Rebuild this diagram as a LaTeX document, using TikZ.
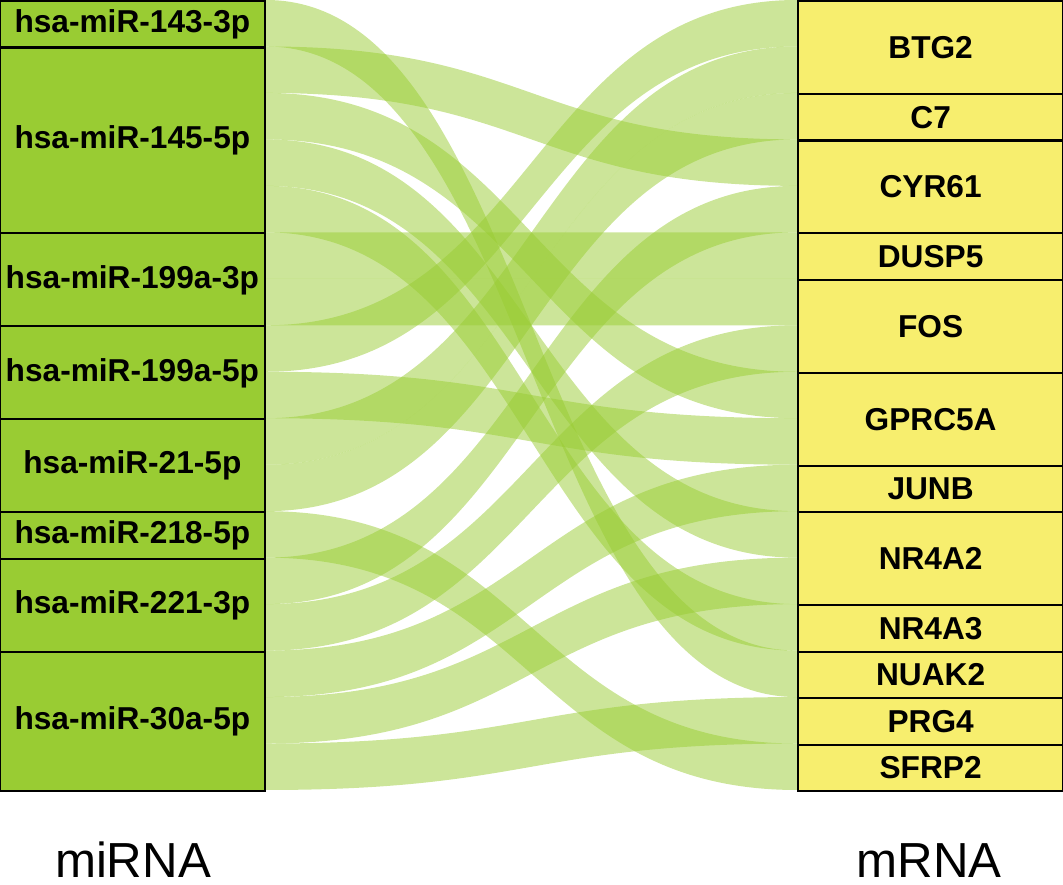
\documentclass[tikz,border=0pt]{standalone}
\usepackage{fontspec}
\setmainfont{Liberation Sans}
\usepackage{tikz}
\usetikzlibrary{calc}

\definecolor{mirgreen}{RGB}{153,204,51}
\definecolor{geneyellow}{RGB}{247,238,110}

\begin{document}
\begin{tikzpicture}[x=0.01cm, y=-0.01cm,
  mirbox/.style={draw=black, line width=0.6pt, fill=mirgreen, anchor=north east,
    minimum width=2.65cm, inner sep=0pt, font=\fontsize{9}{10}\selectfont\bfseries},
  genebox/.style={draw=black, line width=0.6pt, fill=geneyellow, anchor=north west,
    minimum width=2.65cm, inner sep=0pt, font=\fontsize{9}{10}\selectfont\bfseries},
  flow/.style={fill=mirgreen, fill opacity=0.5}]
\useasboundingbox (0,0) rectangle (1063,885);
\def\u{46.47}

% Slot corners on both sides
\foreach \k in {0,...,17} {
    \coordinate (L\k) at (266,\k*\u);
    \coordinate (R\k) at (797,\k*\u);
}

% Flows (left slot / right slot)
\foreach \k/\j in {0/14, 1/3, 2/8, 3/11, 4/13, 5/5, 6/6, 7/0, 8/9,
                   9/1, 10/2, 11/16, 12/4, 13/7, 14/10, 15/12, 16/15} {
    \pgfmathtruncatemacro\kk{\k+1}
    \pgfmathtruncatemacro\jj{\j+1}
    \fill[flow] (L\k) .. controls +(265.5,0) and +(-265.5,0) .. (R\j)
        -- (R\jj) .. controls +(-265.5,0) and +(265.5,0) .. (L\kk) -- cycle;
}

% miRNA boxes
\foreach \n/\t/\s/\h in {m1433/hsa-miR-143-3p/0/1, m1455/hsa-miR-145-5p/1/4,
                         m199a3/hsa-miR-199a-3p/5/2, m199a5/hsa-miR-199a-5p/7/2,
                         m215/hsa-miR-21-5p/9/2, m2185/hsa-miR-218-5p/11/1,
                         m2213/hsa-miR-221-3p/12/2, m30a5/hsa-miR-30a-5p/14/3} {
    \node[mirbox, minimum height=\h*4.647mm] (\n) at (L\s) {\t};
}

% mRNA boxes
\foreach \n/\t/\s/\h in {btg2/BTG2/0/2, c7/C7/2/1, cyr61/CYR61/3/2, dusp5/DUSP5/5/1,
                         fos/FOS/6/2, gprc5a/GPRC5A/8/2, junb/JUNB/10/1,
                         nr4a2/NR4A2/11/2, nr4a3/NR4A3/13/1, nuak2/NUAK2/14/1,
                         prg4/PRG4/15/1, sfrp2/SFRP2/16/1} {
    \node[genebox, minimum height=\h*4.647mm] (\n) at (R\s) {\t};
}

% Axis titles
\node[anchor=base, inner sep=0pt, font=\fontsize{14}{16}\selectfont] (mirna) at (133,877) {miRNA};
\node[anchor=base, inner sep=0pt, font=\fontsize{14}{16}\selectfont] (mrna) at (929,877) {mRNA};
\end{tikzpicture}
\end{document}
